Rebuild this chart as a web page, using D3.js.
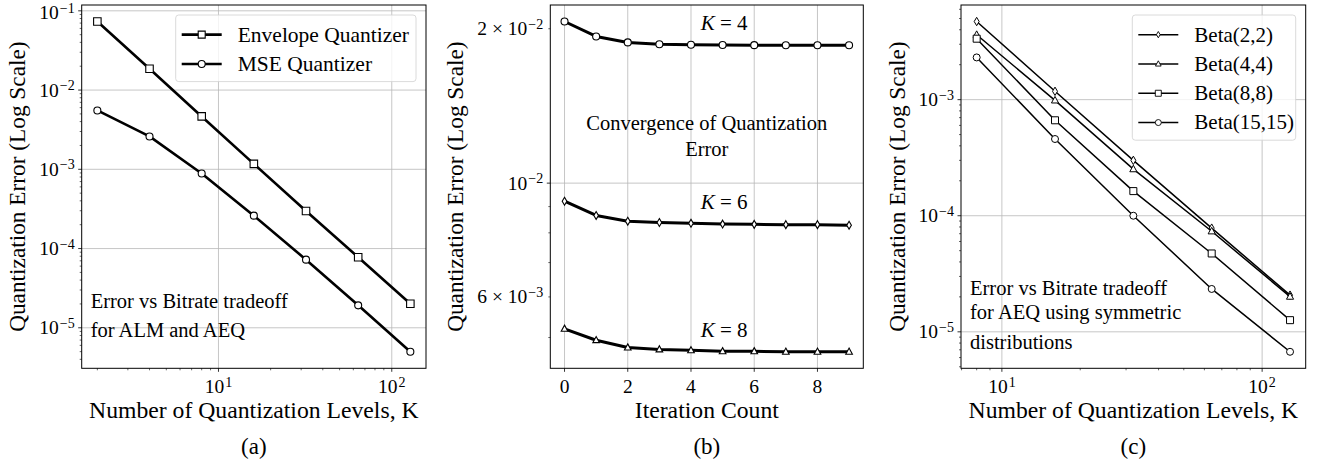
<!DOCTYPE html>
<html>
<head>
<meta charset="utf-8">
<script src="https://cdnjs.cloudflare.com/ajax/libs/d3/7.8.5/d3.min.js"></script>
<style>
  body { margin: 0; background: #fff; }
  svg { font-family: "Liberation Serif", "DejaVu Serif", serif; }
</style>
</head>
<body>
<div id="chart"></div>
<script>
var width = 1322,
    height = 466;

// ---- data ----
var levelsA = [2, 4, 8, 16, 32, 64, 128];
var envelopeErr = [0.0733, 0.0186, 0.00465, 0.00117, 0.000298, 0.0000778, 0.0000201];
var mseErr = [0.00553, 0.0026, 0.000887, 0.00026, 0.0000724, 0.0000192, 0.00000498];

var iterations = [0, 1, 2, 3, 4, 5, 6, 7, 8, 9];
var convK4 = [0.02066, 0.01932, 0.01881, 0.01866, 0.01861, 0.01859, 0.01858, 0.01857, 0.01857, 0.01857];
var convK6 = [0.00922, 0.00865, 0.00843, 0.00838, 0.00835, 0.00832, 0.00831, 0.0083, 0.0083, 0.00828];
var convK8 = [0.0052, 0.00494, 0.00478, 0.00474, 0.00472, 0.0047, 0.0047, 0.00469, 0.00469, 0.00469];

var levelsC = [8, 16, 32, 64, 128];
var beta22 = [0.00471, 0.00118, 0.0003, 0.0000782, 0.0000207];
var beta44 = [0.00362, 0.000986, 0.000252, 0.0000735, 0.0000201];
var beta88 = [0.00335, 0.000664, 0.000163, 0.0000473, 0.0000126];
var beta1515 = [0.00231, 0.000458, 0.0001, 0.0000234, 0.00000673];

var legendA = ["Envelope Quantizer", "MSE Quantizer"];
var legendC = ["Beta(2,2)", "Beta(4,4)", "Beta(8,8)", "Beta(15,15)"];
var labelsK = ["4", "6", "8"];
var ticksB = [0, 2, 4, 6, 8];

var svg = d3.select("#chart").append("svg")
    .attr("width", width)
    .attr("height", height);

var gridColor = "#b8b8b8";
var tickSize = 19.5;

function markerPath(type, s) {
    var h = s / 2;
    if (type == "square") return "M" + (-h) + "," + (-h) + "H" + h + "V" + h + "H" + (-h) + "Z";
    if (type == "diamond") return "M0," + (-h * 1.05) + "L" + (h * 0.62) + ",0L0," + (h * 1.05) + "L" + (-h * 0.62) + ",0Z";
    if (type == "triangle") return "M0," + (-h * 1.05) + "L" + (h * 0.95) + "," + (h * 0.7) + "L" + (-h * 0.95) + "," + (h * 0.7) + "Z";
    // circle
    return "M" + h + ",0A" + h + "," + h + " 0 1,1 " + (-h) + ",0A" + h + "," + h + " 0 1,1 " + h + ",0Z";
}

// tick label like 10^-3 or 2×10^-2
function powLabel(sel, mant, exp, size) {
    var t = sel.append("text").style("font-size", size + "px");
    if (mant) t.append("tspan").text(mant + " \u00d7 ");
    t.append("tspan").text("10");
    t.append("tspan").text(exp < 0 ? "\u2212" + (-exp) : exp)
        .style("font-size", (size * 0.72) + "px")
        .attr("dx", 1)
        .attr("dy", -size * 0.33);
    return t;
}

function logMinors(domain) {
    var out = [];
    var lo = Math.floor(Math.log10(domain[0])), hi = Math.ceil(Math.log10(domain[1]));
    for (var e = lo; e <= hi; e++) {
        for (var m = 2; m <= 9; m++) {
            var v = m * Math.pow(10, e);
            if (v >= domain[0] && v <= domain[1]) out.push(v);
        }
    }
    return out;
}

function logMajors(domain) {
    var out = [];
    for (var e = Math.ceil(Math.log10(domain[0])); e <= Math.floor(Math.log10(domain[1])); e++) out.push(Math.pow(10, e));
    return out;
}

function padLog(lo, hi) {
    var a = Math.log10(lo), b = Math.log10(hi), m = (b - a) * 0.05;
    return [Math.pow(10, a - m), Math.pow(10, b + m)];
}

function makePanel(left, right, top, bottom) {
    var g = svg.append("g");
    return { g: g, left: left, right: right, top: top, bottom: bottom };
}

function frame(p) {
    p.g.append("rect")
        .attr("x", p.left).attr("y", p.top)
        .attr("width", p.right - p.left).attr("height", p.bottom - p.top)
        .attr("fill", "none").attr("stroke", "#000").attr("stroke-width", 1);
}

function drawTicks(p, x, y, xMajor, xMinor, yMajor, yMinor, xFmt, yFmt) {
    var g = p.g;
    // grid
    g.selectAll(null).data(xMajor).enter().append("line")
        .attr("x1", function(d) { return x(d); }).attr("x2", function(d) { return x(d); })
        .attr("y1", p.top).attr("y2", p.bottom)
        .attr("stroke", gridColor).attr("stroke-width", 0.8);
    g.selectAll(null).data(yMajor).enter().append("line")
        .attr("y1", function(d) { return y(d); }).attr("y2", function(d) { return y(d); })
        .attr("x1", p.left).attr("x2", p.right)
        .attr("stroke", gridColor).attr("stroke-width", 0.8);
    // tick marks
    g.selectAll(null).data(xMajor).enter().append("line")
        .attr("x1", function(d) { return x(d); }).attr("x2", function(d) { return x(d); })
        .attr("y1", p.bottom).attr("y2", p.bottom + 3.5).attr("stroke", "#000").attr("stroke-width", 0.8);
    g.selectAll(null).data(xMinor).enter().append("line")
        .attr("x1", function(d) { return x(d); }).attr("x2", function(d) { return x(d); })
        .attr("y1", p.bottom).attr("y2", p.bottom + 2).attr("stroke", "#000").attr("stroke-width", 0.6);
    g.selectAll(null).data(yMajor).enter().append("line")
        .attr("y1", function(d) { return y(d); }).attr("y2", function(d) { return y(d); })
        .attr("x1", p.left).attr("x2", p.left - 3.5).attr("stroke", "#000").attr("stroke-width", 0.8);
    g.selectAll(null).data(yMinor).enter().append("line")
        .attr("y1", function(d) { return y(d); }).attr("y2", function(d) { return y(d); })
        .attr("x1", p.left).attr("x2", p.left - 2).attr("stroke", "#000").attr("stroke-width", 0.6);
    // labels
    xMajor.forEach(function(d) {
        xFmt(g, d).attr("x", x(d)).attr("y", p.bottom + 25).attr("text-anchor", "middle");
    });
    yMajor.concat(yMinor).forEach(function(d) {
        var t = yFmt(g, d);
        if (t) {
            t.attr("x", p.left - 7).attr("y", y(d) + 6.5).attr("text-anchor", "end");
            // keep the top label inside the picture
            var bb = t.node().getBBox();
            if (bb.y < 0) t.attr("transform", "translate(0," + (-bb.y) + ")");
        }
    });
}

function expFmt(g, d) {
    return powLabel(g, null, Math.round(Math.log10(d)), tickSize);
}

function series(p, x, y, xs, ys, marker, lw, ms, mlw) {
    var line = d3.line().x(function(d, i) { return x(xs[i]); }).y(function(d) { return y(d); });
    p.g.append("path").datum(ys)
        .attr("d", line).attr("fill", "none")
        .attr("stroke", "#000").attr("stroke-width", lw).attr("stroke-linejoin", "round");
    p.g.selectAll(null).data(ys).enter().append("path")
        .attr("d", markerPath(marker, ms))
        .attr("transform", function(d, i) { return "translate(" + x(xs[i]) + "," + y(d) + ")"; })
        .attr("fill", "#fff").attr("stroke", "#000").attr("stroke-width", mlw);
}

function axisLabels(p, xText, yText, yX, sub) {
    var cx = (p.left + p.right) / 2;
    p.g.append("text").text(xText)
        .attr("x", cx).attr("y", p.bottom + 50)
        .attr("text-anchor", "middle").style("font-size", "23.7px");
    p.g.append("text").text(yText)
        .attr("transform", "translate(" + yX + "," + ((p.top + p.bottom) / 2) + ") rotate(-90)")
        .attr("text-anchor", "middle").attr("dy", "0.35em").style("font-size", "23.3px");
    p.g.append("text").text(sub)
        .attr("x", cx).attr("y", p.bottom + 86)
        .attr("text-anchor", "middle").style("font-size", "23px");
}

function legend(p, x0, y0, w, rowH, names, markers, lw, ms, mlw, fs) {
    var lg = p.g.append("g").attr("transform", "translate(" + x0 + "," + y0 + ")");
    lg.append("rect").attr("width", w).attr("height", rowH * names.length + 8)
        .attr("rx", 3).attr("fill", "#fff").attr("fill-opacity", 0.8)
        .attr("stroke", "#d0d0d0").attr("stroke-width", 0.8);
    names.forEach(function(n, i) {
        var cy = 4 + rowH * (i + 0.5) + 1;
        lg.append("line").attr("x1", 6).attr("x2", 6 + 40).attr("y1", cy).attr("y2", cy)
            .attr("stroke", "#000").attr("stroke-width", lw);
        lg.append("path").attr("d", markerPath(markers[i], ms))
            .attr("transform", "translate(26," + cy + ")")
            .attr("fill", "#fff").attr("stroke", "#000").attr("stroke-width", mlw);
        lg.append("text").text(n).attr("x", 62).attr("y", cy).attr("dy", "0.33em")
            .style("font-size", fs + "px");
    });
}

// ---------------- panel (a) ----------------
var pa = makePanel(81.7, 426, 5, 368.3);
var xa = d3.scaleLog().domain(padLog(2, 128)).range([pa.left, pa.right]);
var ya = d3.scaleLog().domain(padLog(d3.min(mseErr), d3.max(envelopeErr))).range([pa.bottom, pa.top]);
drawTicks(pa, xa, ya, logMajors(xa.domain()), logMinors(xa.domain()),
    logMajors(ya.domain()), logMinors(ya.domain()), expFmt,
    function(g, d) { return logMajors(ya.domain()).indexOf(d) >= 0 ? expFmt(g, d) : null; });
series(pa, xa, ya, levelsA, envelopeErr, "square", 2.6, 7.5, 1.1);
series(pa, xa, ya, levelsA, mseErr, "circle", 2.6, 7, 1.1);
legend(pa, 175.7, 15, 240.3, 29.3, legendA, ["square", "circle"], 2.6, 7, 1.1, 21.5);
var ta = pa.g.append("text").style("font-size", "20.5px").attr("x", pa.left + 9).attr("y", pa.bottom - 60);
ta.append("tspan").text("Error vs Bitrate tradeoff");
ta.append("tspan").text("for ALM and AEQ").attr("x", pa.left + 9).attr("dy", 28.5);
frame(pa);
axisLabels(pa, "Number of Quantization Levels, K", "Quantization Error (Log Scale)", 16.7, "(a)");

// ---------------- panel (b) ----------------
var pb = makePanel(550.3, 863.3, 5, 368.3);
var xb = d3.scaleLinear().domain([-0.45, 9.45]).range([pb.left, pb.right]);
var yb = d3.scaleLog().domain(padLog(d3.min(convK8), d3.max(convK4))).range([pb.bottom, pb.top]);
drawTicks(pb, xb, yb, ticksB, [], logMajors(yb.domain()), logMinors(yb.domain()),
    function(g, d) { return g.append("text").text(d).style("font-size", tickSize + "px"); },
    function(g, d) {
        var e = Math.floor(Math.log10(d) + 1e-9), m = Math.round(d / Math.pow(10, e));
        if (m == 1) return powLabel(g, null, e, tickSize);
        if (m == 2 || m == 6) return powLabel(g, m, e, tickSize);
        return null;
    });
series(pb, xb, yb, iterations, convK4, "circle", 3, 7, 1.1);
series(pb, xb, yb, iterations, convK6, "diamond", 3, 7.5, 1.1);
series(pb, xb, yb, iterations, convK8, "triangle", 3, 7, 1.1);
[convK4, convK6, convK8].forEach(function(s, i) {
    var t = pb.g.append("text").attr("x", xb(5.05)).attr("y", yb(s[0]) + 8)
        .attr("text-anchor", "middle").style("font-size", "21px");
    t.append("tspan").text("K").style("font-style", "italic");
    t.append("tspan").text(" = " + labelsK[i]);
});
var tb = pb.g.append("text").style("font-size", "20.5px").attr("text-anchor", "middle")
    .attr("x", xb(4.5)).attr("y", 130);
tb.append("tspan").text("Convergence of Quantization");
tb.append("tspan").text("Error").attr("x", xb(4.5)).attr("dy", 26);
frame(pb);
axisLabels(pb, "Iteration Count", "Quantization Error (Log Scale)", 455, "(b)");

// ---------------- panel (c) ----------------
var pc = makePanel(961, 1305.7, 5, 368.3);
var xc = d3.scaleLog().domain(padLog(8, 128)).range([pc.left, pc.right]);
var yc = d3.scaleLog().domain(padLog(d3.min(beta1515), d3.max(beta22))).range([pc.bottom, pc.top]);
drawTicks(pc, xc, yc, logMajors(xc.domain()), logMinors(xc.domain()),
    logMajors(yc.domain()), logMinors(yc.domain()), expFmt,
    function(g, d) { return logMajors(yc.domain()).indexOf(d) >= 0 ? expFmt(g, d) : null; });
series(pc, xc, yc, levelsC, beta22, "diamond", 1.5, 8, 1);
series(pc, xc, yc, levelsC, beta44, "triangle", 1.5, 7.5, 1);
series(pc, xc, yc, levelsC, beta88, "square", 1.5, 7, 1);
series(pc, xc, yc, levelsC, beta1515, "circle", 1.5, 7, 1);
legend(pc, 1132.3, 15, 163.4, 29.3, legendC, ["diamond", "triangle", "square", "circle"], 1.5, 6, 0.9, 21);
var tc = pc.g.append("text").style("font-size", "20.5px").attr("x", pc.left + 9).attr("y", 295);
tc.append("tspan").text("Error vs Bitrate tradeoff");
tc.append("tspan").text("for AEQ using symmetric").attr("x", pc.left + 9).attr("dy", 24);
tc.append("tspan").text("distributions").attr("x", pc.left + 9).attr("dy", 30);
frame(pc);
axisLabels(pc, "Number of Quantization Levels, K", "Quantization Error (Log Scale)", 896.7, "(c)");
</script>
</body>
</html>
